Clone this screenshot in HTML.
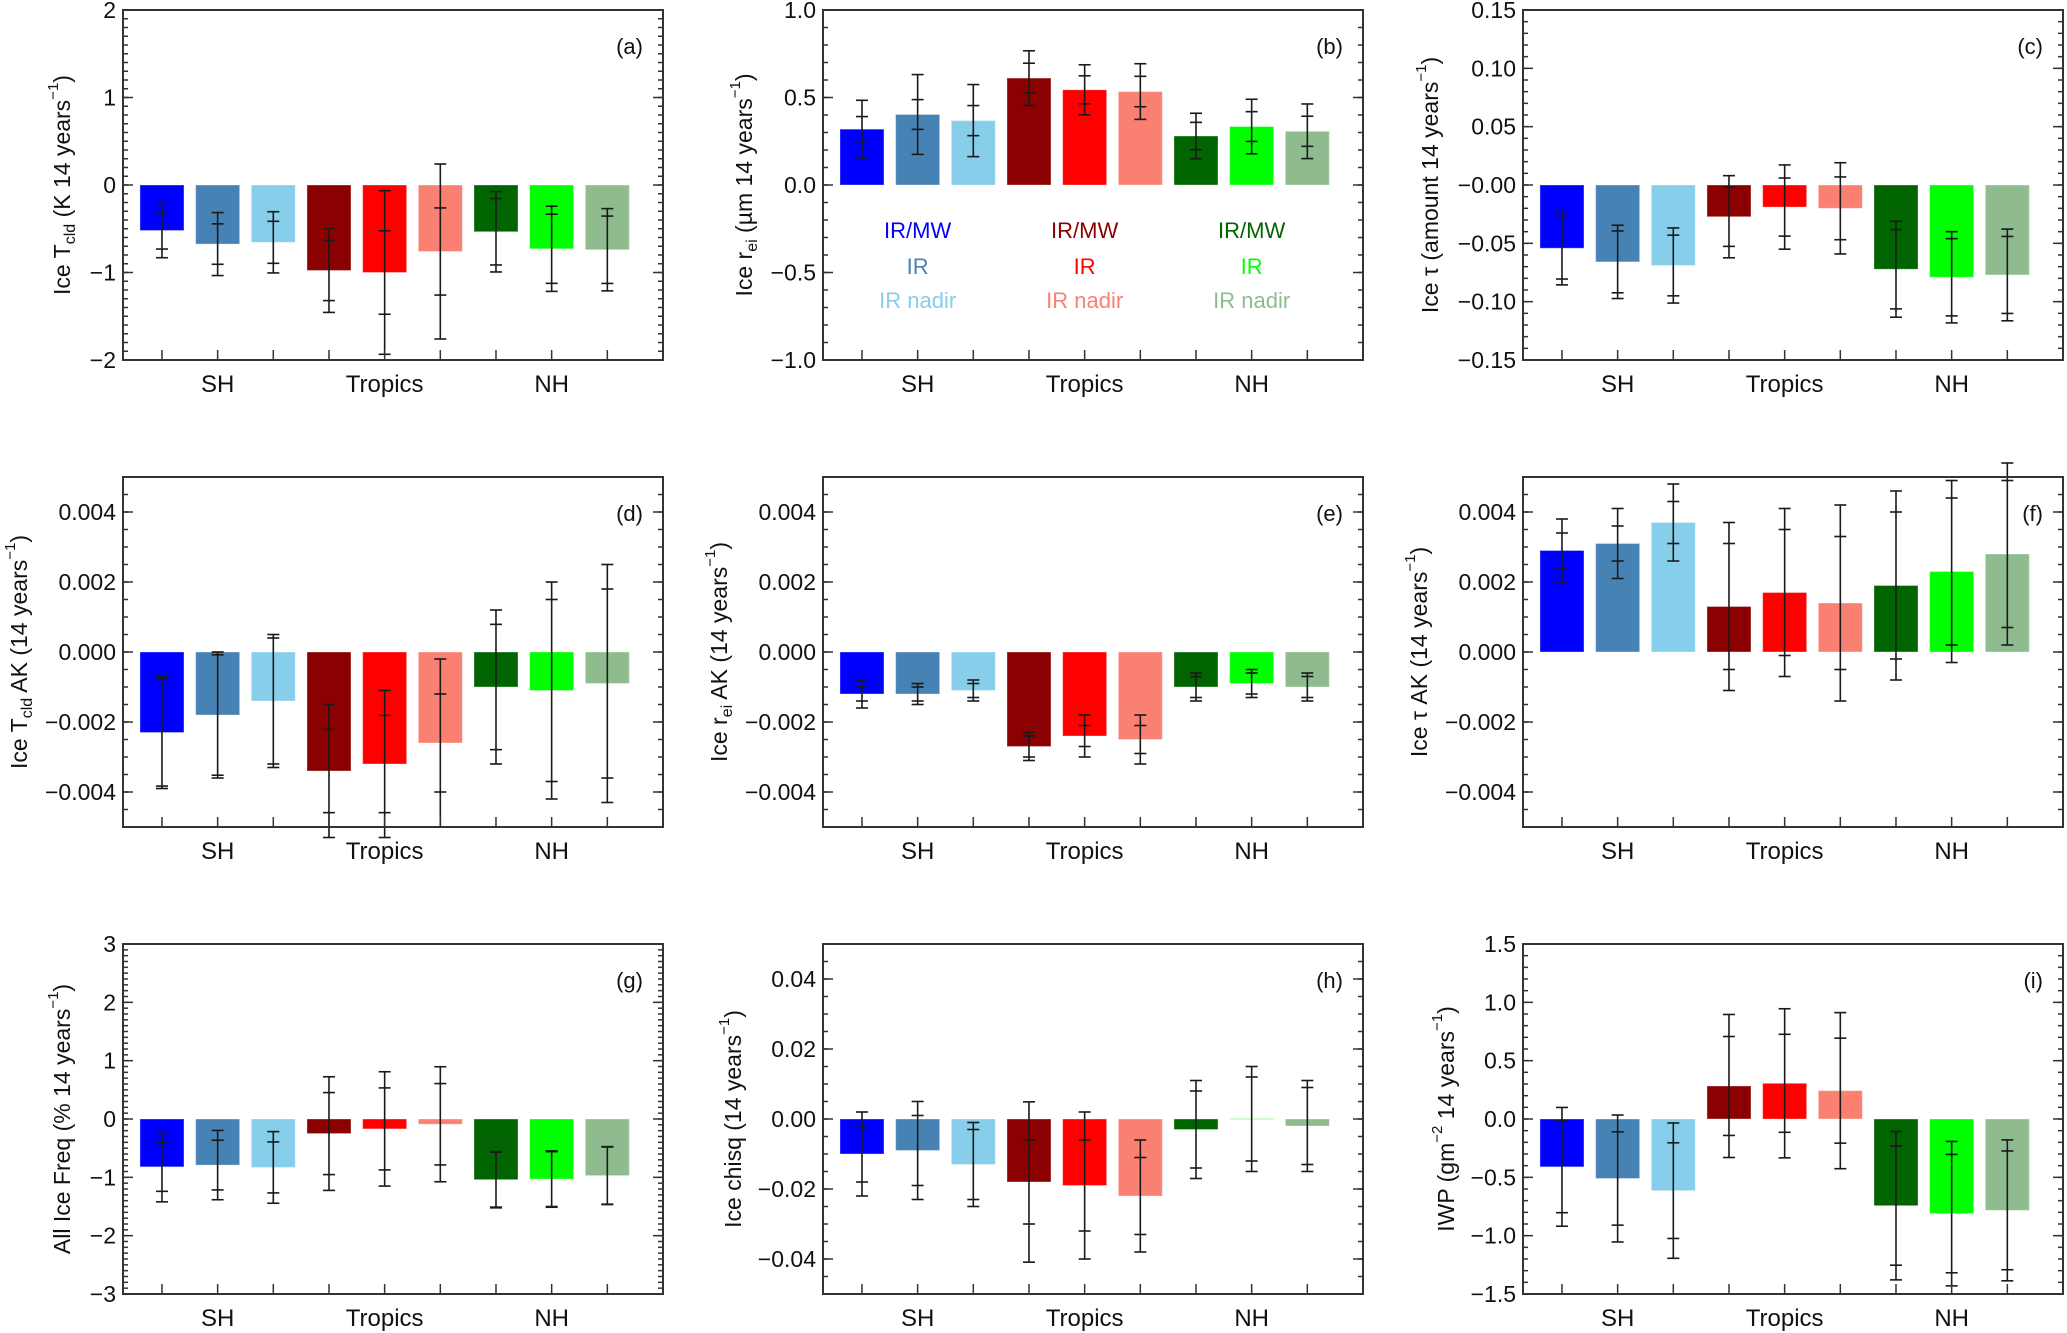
<!DOCTYPE html>
<html><head><meta charset="utf-8"><title>Ice cloud trends</title>
<style>
html,body{margin:0;padding:0;background:#fff;}
svg{display:block;font-family:"Liberation Sans",Arial,sans-serif;}
</style></head>
<body>
<svg id="fig" xmlns="http://www.w3.org/2000/svg" width="2067" height="1333" viewBox="0 0 2067 1333"></svg>
<script>
// ---------- data ----------
const categories = ["SH","Tropics","NH"];
const legendLabels = ["IR/MW","IR","IR nadir"];
const barColors = ["#0000ff","#4682b4","#87ceeb","#8b0000","#ff0000","#fa8072","#006400","#00ff00","#8fbc8f"];

const aValues = [-0.52,-0.675,-0.655,-0.977,-1.0,-0.76,-0.534,-0.729,-0.74];
const aOuter  = [0.311,0.36,0.35,0.479,0.935,1.0,0.46,0.487,0.47];
const aInner  = [0.212,0.231,0.24,0.344,0.477,0.498,0.38,0.395,0.385];
const aTicks  = [-2,-1,0,1,2];
const aTickLabels = ["\u22122","\u22121","0","1","2"];

const bValues = [0.319,0.403,0.368,0.611,0.544,0.534,0.28,0.334,0.307];
const bOuter  = [0.165,0.228,0.206,0.156,0.143,0.159,0.13,0.156,0.156];
const bInner  = [0.072,0.085,0.086,0.085,0.08,0.087,0.078,0.085,0.086];
const bTicks  = [-1,-0.5,0,0.5,1];
const bTickLabels = ["\u22121.0","\u22120.5","0.0","0.5","1.0"];

const cValues = [-0.0542,-0.0659,-0.069,-0.0272,-0.0189,-0.02,-0.0722,-0.0791,-0.0771];
const cOuter  = [0.0314,0.0314,0.0322,0.0352,0.0361,0.0391,0.0411,0.0391,0.0393];
const cInner  = [0.0264,0.0265,0.026,0.0254,0.0249,0.0269,0.034,0.0331,0.033];
const cTicks  = [-0.15,-0.10,-0.05,0,0.05,0.10,0.15];
const cTickLabels = ["\u22120.15","\u22120.10","\u22120.05","\u22120.00","0.05","0.10","0.15"];

const dValues = [-0.0023,-0.0018,-0.0014,-0.0034,-0.0032,-0.0026,-0.001,-0.0011,-0.0009];
const dOuter  = [0.0016,0.0018,0.0019,0.0019,0.0021,0.0024,0.0022,0.0031,0.0034];
const dInner  = [0.00153,0.00172,0.0018,0.00119,0.00139,0.0014,0.00179,0.0026,0.0027];
const dTicks  = [-0.004,-0.002,0,0.002,0.004];
const dTickLabels = ["\u22120.004","\u22120.002","0.000","0.002","0.004"];

const eValues = [-0.0012,-0.0012,-0.0011,-0.0027,-0.0024,-0.0025,-0.001,-0.0009,-0.001];
const eOuter  = [0.0004,0.0003,0.0003,0.0004,0.0006,0.0007,0.0004,0.0004,0.0004];
const eInner  = [0.0002,0.0002,0.0002,0.0003,0.0003,0.0004,0.0003,0.0003,0.0003];
const eTicks  = [-0.004,-0.002,0,0.002,0.004];
const eTickLabels = ["\u22120.004","\u22120.002","0.000","0.002","0.004"];

const fValues = [0.0029,0.0031,0.0037,0.0013,0.0017,0.0014,0.0019,0.0023,0.0028];
const fOuter  = [0.0009,0.001,0.0011,0.0024,0.0024,0.0028,0.0027,0.0026,0.0026];
const fInner  = [0.0005,0.0005,0.0006,0.0018,0.0018,0.0019,0.0021,0.0021,0.0021];
const fTicks  = [-0.004,-0.002,0,0.002,0.004];
const fTickLabels = ["\u22120.004","\u22120.002","0.000","0.002","0.004"];

const gValues = [-0.82,-0.79,-0.83,-0.25,-0.17,-0.09,-1.04,-1.03,-0.97];
const gOuter  = [0.6,0.594,0.614,0.974,0.98,0.986,0.483,0.483,0.497];
const gInner  = [0.42,0.426,0.437,0.703,0.703,0.697,0.47,0.47,0.49];
const gTicks  = [-3,-2,-1,0,1,2,3];
const gTickLabels = ["\u22123","\u22122","\u22121","0","1","2","3"];

const hValues = [-0.01,-0.009,-0.013,-0.018,-0.019,-0.022,-0.003,0.0,-0.002];
const hOuter  = [0.012,0.014,0.012,0.0229,0.021,0.016,0.014,0.015,0.013];
const hInner  = [0.008,0.01,0.01,0.012,0.013,0.011,0.011,0.012,0.011];
const hTicks  = [-0.04,-0.02,0,0.02,0.04];
const hTickLabels = ["\u22120.04","\u22120.02","0.00","0.02","0.04"];

const iValues = [-0.41,-0.51,-0.614,0.283,0.306,0.243,-0.743,-0.811,-0.783];
const iOuter  = [0.509,0.544,0.58,0.613,0.639,0.669,0.636,0.619,0.604];
const iInner  = [0.393,0.4,0.41,0.424,0.42,0.45,0.51,0.507,0.509];
const iTicks  = [-1.5,-1.0,-0.5,0,0.5,1.0,1.5];
const iTickLabels = ["\u22121.5","\u22121.0","\u22120.5","0.0","0.5","1.0","1.5"];

// ---------- layout ----------
const SUB = t => '<tspan baseline-shift="sub" font-size="16">'+t+'</tspan>';
const SUP = t => '<tspan baseline-shift="super" font-size="15">'+t+'</tspan>';
const panels = [
 {id:"a",x0:123,y0:10,ymin:-2,ymax:2,minor:0.1,v:aValues,o:aOuter,n:aInner,t:aTicks,tl:aTickLabels,tx:62,title:'Ice T'+SUB('cld')+' (K 14 years'+SUP('\u22121')+')'},
 {id:"b",x0:823,y0:10,ymin:-1,ymax:1,minor:0.1,v:bValues,o:bOuter,n:bInner,t:bTicks,tl:bTickLabels,tx:744,title:'Ice r'+SUB('ei')+' (\u00b5m 14 years'+SUP('\u22121')+')',legend:true},
 {id:"c",x0:1523,y0:10,ymin:-0.15,ymax:0.15,minor:0.01,v:cValues,o:cOuter,n:cInner,t:cTicks,tl:cTickLabels,tx:1430,title:'Ice \u03c4 (amount 14 years'+SUP('\u22121')+')'},
 {id:"d",x0:123,y0:477,ymin:-0.005,ymax:0.005,minor:0.0005,v:dValues,o:dOuter,n:dInner,t:dTicks,tl:dTickLabels,tx:19,title:'Ice T'+SUB('cld')+' AK (14 years'+SUP('\u22121')+')'},
 {id:"e",x0:823,y0:477,ymin:-0.005,ymax:0.005,minor:0.0005,v:eValues,o:eOuter,n:eInner,t:eTicks,tl:eTickLabels,tx:719,title:'Ice r'+SUB('ei')+' AK (14 years'+SUP('\u22121')+')'},
 {id:"f",x0:1523,y0:477,ymin:-0.005,ymax:0.005,minor:0.0005,v:fValues,o:fOuter,n:fInner,t:fTicks,tl:fTickLabels,tx:1419,title:'Ice \u03c4 AK (14 years'+SUP('\u22121')+')'},
 {id:"g",x0:123,y0:944,ymin:-3,ymax:3,minor:0.1,v:gValues,o:gOuter,n:gInner,t:gTicks,tl:gTickLabels,tx:62,title:'All Ice Freq (% 14 years'+SUP('\u22121')+')'},
 {id:"h",x0:823,y0:944,ymin:-0.05,ymax:0.05,minor:0.005,v:hValues,o:hOuter,n:hInner,t:hTicks,tl:hTickLabels,tx:733,title:'Ice chisq (14 years'+SUP('\u22121')+')'},
 {id:"i",x0:1523,y0:944,ymin:-1.5,ymax:1.5,minor:0.1,v:iValues,o:iOuter,n:iInner,t:iTicks,tl:iTickLabels,tx:1446,title:'IWP (gm'+SUP('\u22122')+' 14 years'+SUP('\u22121')+')'}
];
const W = 540, H = 350, BW = 44, CAP = 12;
const NS = "http://www.w3.org/2000/svg";
const svg = document.getElementById("fig");

function mk(tag, attrs, parent){
  const el = document.createElementNS(NS, tag);
  for (const k in attrs) el.setAttribute(k, attrs[k]);
  parent.appendChild(el);
  return el;
}

panels.forEach(p => {
  const g = mk("g", {}, svg);
  
  
  const xs = i => p.x0 + (i + 0.7) * W / 9.7;
  const ys = v => p.y0 + (p.ymax - v) / (p.ymax - p.ymin) * H;

  p.v.forEach((v, i) => {
    let y1 = ys(Math.max(v, 0)), y2 = ys(Math.min(v, 0));
    if (y2 - y1 < 1.5) { y1 -= 0.75; y2 += 0.75; }
    const r = mk("rect", {x: xs(i) - BW/2, y: y1, width: BW, height: y2 - y1, fill: barColors[i], stroke: "#ffffff", "stroke-opacity": 0.35, "stroke-width": 1}, g);
    if (Math.abs(v) < 1e-9) r.setAttribute("fill-opacity", "0.35");
    
    
  });
  p.v.forEach((v, i) => {
    const eg = mk("g", {stroke: "#1a1a1a", "stroke-width": 1.6, fill: "none"}, g);
    
    
    const cx = xs(i);
    mk("line", {x1: cx, x2: cx, y1: ys(v + p.o[i]), y2: ys(v - p.o[i])}, eg);
    [v + p.o[i], v - p.o[i], v + p.n[i], v - p.n[i]].forEach(e => {
      mk("line", {x1: cx - CAP/2, x2: cx + CAP/2, y1: ys(e), y2: ys(e)}, eg);
    });
  });
  const box = mk("rect", {x: p.x0, y: p.y0, width: W, height: H, fill: "none", stroke: "#333", "stroke-width": 2}, g);
  
  
  const tg = mk("g", {stroke: "#333", "stroke-width": 1.5}, g);
  
  
  const nMinor = Math.round((p.ymax - p.ymin) / p.minor);
  for (let k = 1; k < nMinor; k++) {
    const y = ys(p.ymin + k * p.minor);
    mk("line", {x1: p.x0, x2: p.x0 + 5, y1: y, y2: y}, tg);
    mk("line", {x1: p.x0 + W - 5, x2: p.x0 + W, y1: y, y2: y}, tg);
  }
  p.t.forEach((tv, k) => {
    const y = ys(tv);
    mk("line", {x1: p.x0, x2: p.x0 + 10, y1: y, y2: y}, tg);
    mk("line", {x1: p.x0 + W - 10, x2: p.x0 + W, y1: y, y2: y}, tg);
    const t = mk("text", {x: p.x0 - 7, y: y + 8, "text-anchor": "end", "font-size": 23, fill: "#111"}, g);
    t.textContent = p.tl[k];
    
    
  });
  p.v.forEach((v, i) => {
    mk("line", {x1: xs(i), x2: xs(i), y1: p.y0 + H, y2: p.y0 + H - 10}, tg);
  });
  categories.forEach((c, k) => {
    const t = mk("text", {x: xs(k * 3 + 1), y: p.y0 + H + 32, "text-anchor": "middle", "font-size": 24, fill: "#111"}, g);
    t.textContent = c;
    
    
  });
  const pl = mk("text", {x: p.x0 + W - 20, y: p.y0 + 44, "text-anchor": "end", "font-size": 22, fill: "#111"}, g);
  pl.textContent = "(" + p.id + ")";
  
  
  const yc = p.y0 + H / 2;
  const tt = mk("text", {x: p.tx, y: yc, "text-anchor": "middle", "dominant-baseline": "central", "font-size": 23, fill: "#111", transform: "rotate(-90 " + p.tx + " " + yc + ")"}, g);
  tt.innerHTML = p.title;
  
  
  if (p.legend) {
    const lys = [230, 266, 300];
    categories.forEach((c, k) => {
      legendLabels.forEach((lab, j) => {
        const t = mk("text", {x: xs(k * 3 + 1), y: lys[j] + 8, "text-anchor": "middle", "font-size": 22, fill: barColors[k * 3 + j]}, g);
        t.textContent = lab;
        
        
      });
    });
  }
});
</script>
</body></html>
